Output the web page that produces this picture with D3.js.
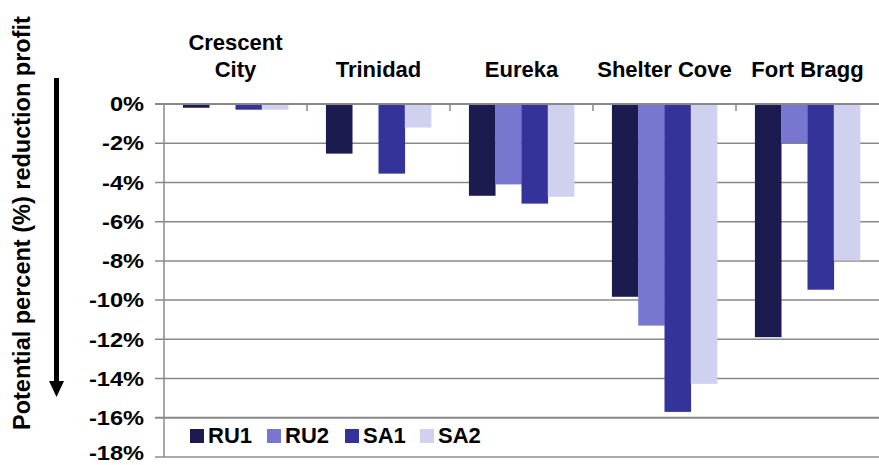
<!DOCTYPE html>
<html><head><meta charset="utf-8">
<script src="https://cdn.jsdelivr.net/npm/d3@7"></script>
<style>body{margin:0;background:#fff}svg{display:block}text{font-family:"Liberation Sans",Arial,sans-serif;font-weight:bold;fill:#000}</style>
</head><body><svg id="c" width="879" height="465"></svg>
<script>
const categories = ["Crescent City","Trinidad","Eureka","Shelter Cove","Fort Bragg"];
const categoryLines = [["Crescent","City"],["Trinidad"],["Eureka"],["Shelter Cove"],["Fort Bragg"]];
const seriesNames = ["RU1","RU2","SA1","SA2"];
const RU1 = [-0.19, -2.53, -4.68, -9.83, -11.89];
const RU2 = [0, 0, -4.1, -11.3, -2.0];
const SA1 = [-0.29, -3.55, -5.08, -15.7, -9.47];
const SA2 = [-0.29, -1.2, -4.73, -14.27, -7.98];
const yTicks = [0,-2,-4,-6,-8,-10,-12,-14,-16,-18];
const colors = ["#1b1b4f","#7777cf","#333399","#d0d0ef"];
const yTitle = "Potential percent (%) reduction profit";

const seriesVals = [RU1,RU2,SA1,SA2];
const svg = d3.select("#c");
const pL = 164, pR = 879, pT = 104, pB = 457;

const x0 = d3.scaleBand().domain(categories).range([pL,pR]).paddingInner(0).paddingOuter(0);
const x1 = d3.scaleBand().domain(seriesNames).range([0,x0.bandwidth()]).paddingInner(0).paddingOuter(0.72);
const y = d3.scaleLinear().domain([0,-18]).range([pT,pB]);
const color = d3.scaleOrdinal().domain(seriesNames).range(colors);

// gridlines
svg.append("g").selectAll("line").data(yTicks).join("line")
  .attr("x1",pL-9).attr("x2",pR)
  .attr("y1",d=>y(d)).attr("y2",d=>y(d))
  .attr("stroke",d=>d===-18?"#aaa":"#888")
  .attr("stroke-width",d=>(d===-18||d===0||d===-16)?2:1.5);

// y tick labels
svg.append("g").selectAll("text").data(yTicks).join("text")
  .attr("transform",d=>`translate(${pL-20},${y(d) - (d===-18?4:0)}) scale(1.18,1)`)
  .attr("dy","0.36em")
  .attr("text-anchor","end").style("font-size","20px")
  .text(d=>`${d}%`);

// bars
const rows = categories.map((c,i)=>({cat:c, vals:seriesNames.map((s,j)=>({s, v:seriesVals[j][i]}))}));
const g = svg.append("g").selectAll("g").data(rows).join("g")
  .attr("transform",d=>`translate(${x0(d.cat)},0)`);
g.selectAll("rect").data(d=>d.vals).join("rect")
  .attr("x",d=>x1(d.s)).attr("width",x1.bandwidth()+0.3)
  .attr("y",y(0)).attr("height",d=>y(d.v)-y(0))
  .attr("fill",d=>color(d.s));

// zero line over bars
svg.append("line").attr("x1",pL-9).attr("x2",pR).attr("y1",y(0)).attr("y2",y(0))
  .attr("stroke","#888").attr("stroke-width",2);
// y axis line
svg.append("line").attr("x1",pL).attr("x2",pL).attr("y1",y(0)).attr("y2",y(-18))
  .attr("stroke","#888").attr("stroke-width",1.5);
// category ticks
svg.append("g").selectAll("line").data(categories.slice(1)).join("line")
  .attr("x1",d=>x0(d)).attr("x2",d=>x0(d)).attr("y1",y(0)).attr("y2",y(0)+7)
  .attr("stroke","#888").attr("stroke-width",1.5);

// category labels
const cl = svg.append("g").selectAll("text").data(categories).join("text")
  .attr("x",d=>x0(d)+x0.bandwidth()/2).attr("y",77)
  .attr("text-anchor","middle").style("font-size","22px");
cl.each(function(d,i){
  const lines = categoryLines[i];
  lines.forEach((ln,k)=>{
    d3.select(this).append("tspan").attr("x",x0(d)+x0.bandwidth()/2)
      .attr("y",77-(lines.length-1-k)*27.5).text(ln);
  });
});

// legend
const legX = [190,267,345,420];
const lg = svg.append("g").selectAll("g").data(seriesNames).join("g")
  .attr("transform",(d,i)=>`translate(${legX[i]},429)`);
lg.append("rect").attr("width",14).attr("height",14).attr("fill",d=>color(d));
lg.append("text").attr("x",18).attr("y",14).style("font-size","22px").text(d=>d);

// y title
svg.append("text").attr("transform","translate(30,430) rotate(-90)")
  .attr("text-anchor","start").style("font-size","23.5px").text(yTitle);

// arrow
svg.append("line").attr("x1",56.5).attr("x2",56.5).attr("y1",78).attr("y2",383)
  .attr("stroke","#000").attr("stroke-width",5);
svg.append("path").attr("d","M49,381L64,381L56.5,397Z").attr("fill","#000");
</script></body></html>
